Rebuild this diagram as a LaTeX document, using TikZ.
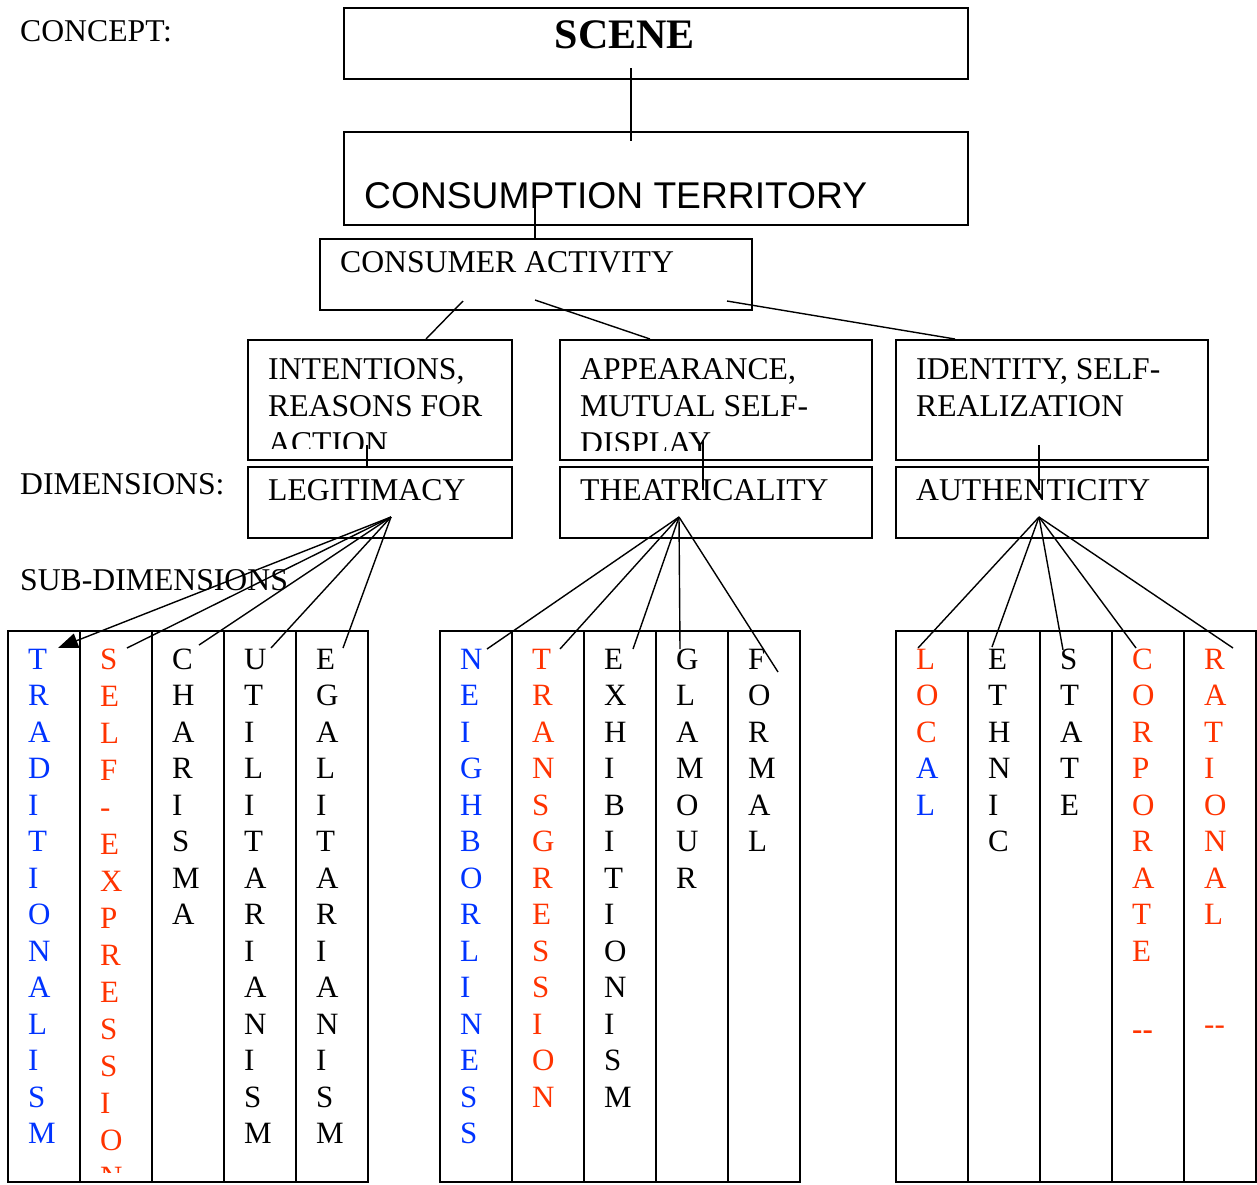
\documentclass[tikz,border=0pt]{standalone}
\usepackage{fontspec}
\setmainfont{Liberation Serif}
\newfontfamily\arialfont{Liberation Sans}
\usepackage{tikz}
\usetikzlibrary{calc,shapes,arrows.meta}
\definecolor{letterblue}{RGB}{0,51,255}
\definecolor{letterred}{RGB}{255,51,0}
\tikzstyle{framebox}=[rectangle,draw=black,line width=1.8pt,anchor=north west,inner sep=0pt]
\tikzstyle{columnbox}=[framebox,minimum width=72pt,minimum height=551pt]
\tikzstyle{plaintext}=[anchor=base west,inner sep=0pt,font=\fontsize{31.7}{37}\selectfont]
\tikzstyle{boxtext}=[plaintext,anchor=north west,align=left]
\tikzstyle{stackletter}=[plaintext,font=\fontsize{31}{36.5}\selectfont]
\tikzstyle{link}=[draw=black,line width=1.4pt]
\newcommand\tierbox[5]{\node [framebox,minimum width=#4pt,minimum height=#5pt] (#1) at (#2,#3) {};}
\newcommand\subcolumn[6]{%
	\node [columnbox] (#1) at (#2,630) {};
	\begin{scope}
		\clip (#2,630) rectangle (#2+72,#5);
		\foreach \onechar [count=\k from 0] in {#6}
			\node [stackletter,text=#3] (#1-\k) at (#2+21,669+#4*\k) {\onechar};
	\end{scope}
}

\begin{document}
\begin{tikzpicture}[x=1pt,y=-1pt]
	\useasboundingbox (0,0) rectangle (1257,1184);
	\tierbox{Scene}{343}{7}{624}{71}
	\tierbox{Territory}{343}{131}{624}{93}
	\tierbox{Activity}{319}{238}{432}{71}
	\tierbox{Intentions}{247}{339}{264}{120}
	\tierbox{Appearance}{559}{339}{312}{120}
	\tierbox{Identity}{895}{339}{312}{120}
	\tierbox{Legitimacy}{247}{466}{264}{71}
	\tierbox{Theatricality}{559}{466}{312}{71}
	\tierbox{Authenticity}{895}{466}{312}{71}

	\node [plaintext] (Concept label) at (20,41) {CONCEPT:};
	\node [plaintext] (Dimensions label) at (20,494) {DIMENSIONS:};
	\node [plaintext] (Subdimensions label) at (20,590) {SUB-DIMENSIONS};
	\node [plaintext,anchor=base,font=\bfseries\fontsize{42}{48}\selectfont] (Scene text) at (625,48) {SCENE};
	\node [plaintext,font=\arialfont\fontsize{37.2}{40}\selectfont] (Territory text) at (364,208) {CONSUMPTION TERRITORY};
	\node [plaintext] (Activity text) at (340,272) {CONSUMER ACTIVITY};
	\begin{scope}
		\clip (247,339) rectangle (511,448);
		\node [boxtext] (Intentions text) at (268,358) {INTENTIONS,\\REASONS FOR\\ACTION};
	\end{scope}
	\begin{scope}
		\clip (559,339) rectangle (871,450);
		\node [boxtext] (Appearance text) at (580,358) {APPEARANCE,\\MUTUAL SELF-\\DISPLAY};
	\end{scope}
	\node [boxtext] (Identity text) at (916,358) {IDENTITY, SELF-\\REALIZATION};
	\node [plaintext] (Legitimacy text) at (268,500) {LEGITIMACY};
	\node [plaintext] (Theatricality text) at (580,500) {THEATRICALITY};
	\node [plaintext] (Authenticity text) at (916,500) {AUTHENTICITY};

	\subcolumn{Traditionalism}{7}{letterblue}{36.5}{1181}{T,R,A,D,I,T,I,O,N,A,L,I,S,M}
	\subcolumn{Self-expression}{79}{letterred}{37}{1172}{S,E,L,F,-,E,X,P,R,E,S,S,I,O,N}
	\subcolumn{Charisma}{151}{black}{36.5}{1181}{C,H,A,R,I,S,M,A}
	\subcolumn{Utilitarianism}{223}{black}{36.5}{1181}{U,T,I,L,I,T,A,R,I,A,N,I,S,M}
	\subcolumn{Egalitarianism}{295}{black}{36.5}{1181}{E,G,A,L,I,T,A,R,I,A,N,I,S,M}
	\subcolumn{Neighborliness}{439}{letterblue}{36.5}{1181}{N,E,I,G,H,B,O,R,L,I,N,E,S,S}
	\subcolumn{Transgression}{511}{letterred}{36.5}{1181}{T,R,A,N,S,G,R,E,S,S,I,O,N}
	\subcolumn{Exhibitionism}{583}{black}{36.5}{1181}{E,X,H,I,B,I,T,I,O,N,I,S,M}
	\subcolumn{Glamour}{655}{black}{36.5}{1181}{G,L,A,M,O,U,R}
	\subcolumn{Formal}{727}{black}{36.5}{1181}{F,O,R,M,A,L}
	\subcolumn{Local}{895}{letterred}{36.5}{1181}{L,O,C,\color{letterblue}A,\color{letterblue}L}
	\subcolumn{Ethnic}{967}{black}{36.5}{1181}{E,T,H,N,I,C}
	\subcolumn{State}{1039}{black}{36.5}{1181}{S,T,A,T,E}
	\subcolumn{Corporate}{1111}{letterred}{36.5}{1181}{C,O,R,P,O,R,A,T,E,,\raisebox{-5pt}{\textbf{-{}-}}}
	\subcolumn{Rational}{1183}{letterred}{36.5}{1181}{R,A,T,I,O,N,A,L,,,-{}-}

	\coordinate (Scene foot) at (631,68);
	\coordinate (Territory head) at (631,141);
	\coordinate (Territory foot) at (535,195);
	\coordinate (Activity left) at (463,301);
	\coordinate (Activity middle) at (535,300);
	\coordinate (Activity right) at (727,301);
	\coordinate (Intentions head) at (426,339);
	\coordinate (Appearance head) at (650,339);
	\coordinate (Identity head) at (955,339);
	\coordinate (Intentions foot) at (367,445);
	\coordinate (Appearance foot) at (703,440);
	\coordinate (Identity foot) at (1039,445);
	\coordinate (Legitimacy hub) at (391,517);
	\coordinate (Theatricality hub) at (679,517);
	\coordinate (Authenticity hub) at (1039,517);

	\draw [link] (Scene foot) -- (Territory head);
	\draw [link] (Territory foot) -- (Territory foot |- Activity.north);
	\draw [link] (Activity left) -- (Intentions head);
	\draw [link] (Activity middle) -- (Appearance head);
	\draw [link] (Activity right) -- (Identity head);
	\draw [link] (Intentions foot) -- (Intentions foot |- Legitimacy.north);
	\draw [link] (Appearance foot) -- ($(Appearance foot)+(0,50)$);
	\draw [link] (Identity foot) -- ($(Identity foot)+(0,45)$);

	\draw [link,-{Triangle[length=20pt,width=15pt]}] (Legitimacy hub) -- ($(Traditionalism.north west)+(51,18)$);
	\foreach \col/\dx/\dy in {Self-expression/48/18,Charisma/48/15,Utilitarianism/48/18,Egalitarianism/48/18}
		\draw [link] (Legitimacy hub) -- ($(\col.north west)+(\dx,\dy)$);
	\foreach \col/\dx/\dy in {Neighborliness/48/19,Transgression/49/19,Exhibitionism/50/19,Glamour/25/19,Formal/51/42}
		\draw [link] (Theatricality hub) -- ($(\col.north west)+(\dx,\dy)$);
	\foreach \col/\dx/\dy in {Local/23/18,Ethnic/25/17,State/24/20,Corporate/25/18,Rational/50/18}
		\draw [link] (Authenticity hub) -- ($(\col.north west)+(\dx,\dy)$);
\end{tikzpicture}
\end{document}
